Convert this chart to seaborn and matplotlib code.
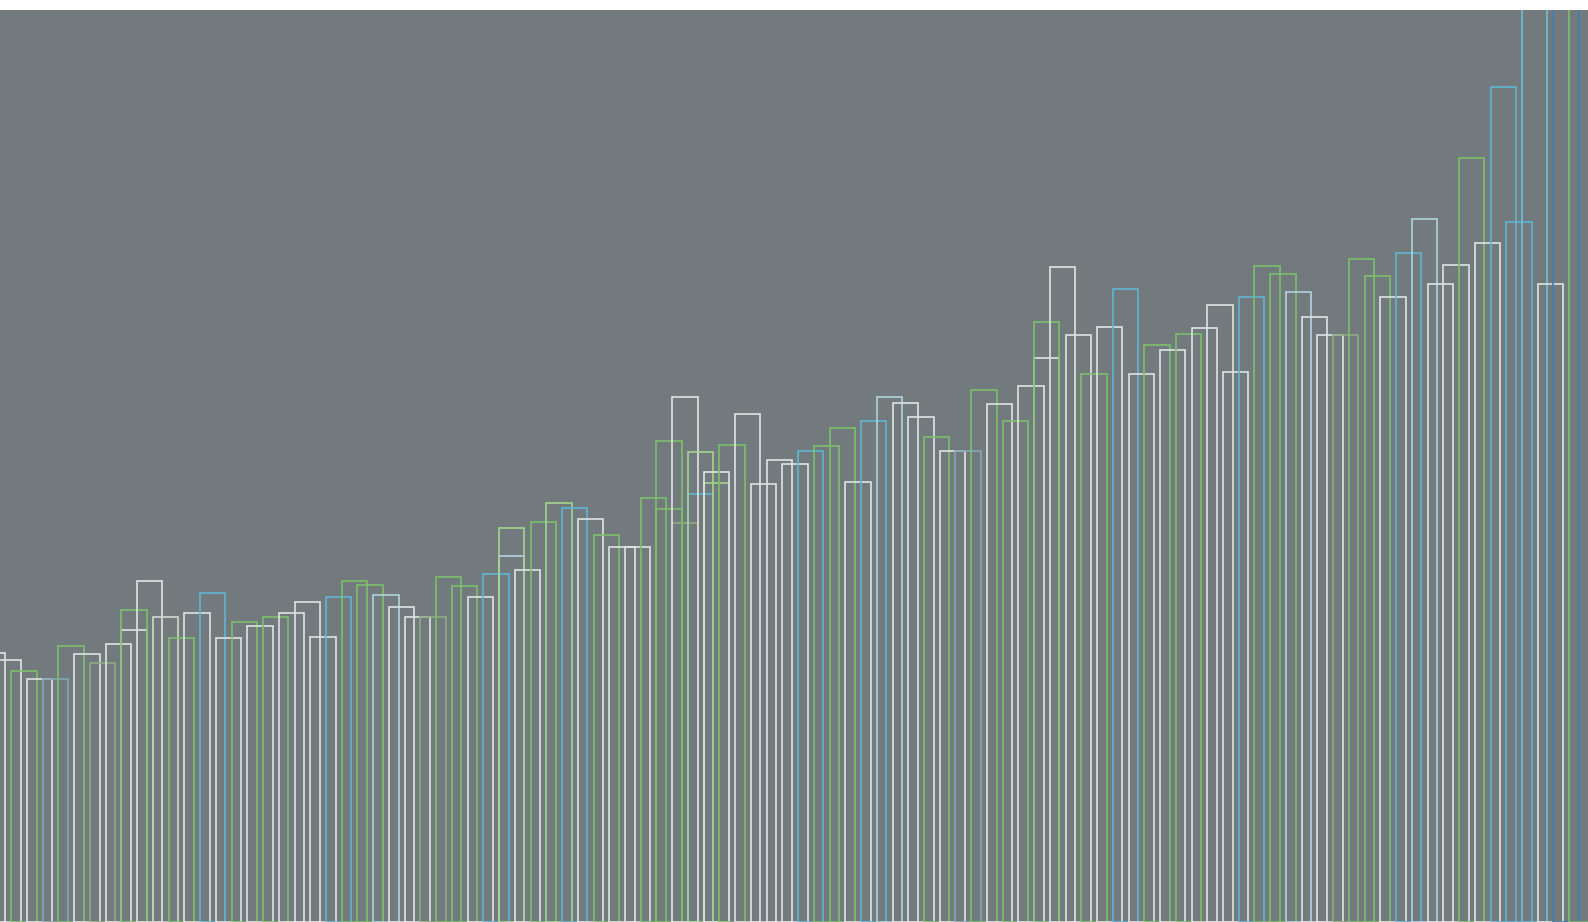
import pandas as pd
import seaborn as sns
import matplotlib.pyplot as plt

# bar heights (front layer, one per slot)
heights = [269, 262, 251, 243, 243, 276, 268, 259, 278, 312,
           341, 305, 284, 309, 329, 284, 300, 296, 305, 309,
           320, 285, 325, 341, 337, 327, 315, 305, 305, 345,
           336, 325, 348, 394, 352, 400, 419, 414, 403, 387,
           375, 375, 424, 481, 525, 470, 450, 477, 508, 438,
           462, 458, 471, 476, 494, 440, 501, 525, 519, 505,
           485, 471, 471, 532, 518, 501, 536, 600, 655, 587,
           548, 595, 633, 548, 577, 572, 588, 594, 617, 550,
           625, 656, 648, 630, 605, 587, 587, 663, 646, 625,
           669, 703, 638, 657, 764, 679, 835, 700, 960, 638,
           960, 960]
tones = ['W', 'W', 'G', 'W', 'FB', 'G', 'W', 'FG', 'W', 'G',
         'W', 'OW', 'G', 'W', 'B', 'W', 'G', 'W', 'G', 'W',
         'W', 'W', 'B', 'G', 'G', 'LB', 'W', 'W', 'FG', 'G',
         'G', 'W', 'B', 'LG', 'W', 'G', 'LG', 'B', 'W', 'G',
         'W', 'W', 'G', 'G', 'W', 'LG', 'W', 'G', 'W', 'W',
         'W', 'W', 'B', 'G', 'G', 'W', 'B', 'LB', 'W', 'W',
         'G', 'W', 'FB', 'G', 'W', 'G', 'W', 'G', 'W', 'W',
         'G', 'W', 'B', 'W', 'G', 'W', 'G', 'W', 'W', 'W',
         'B', 'G', 'G', 'LB', 'W', 'W', 'FG', 'G', 'G', 'W',
         'B', 'LB', 'W', 'W', 'G', 'W', 'B', 'B', 'TB', 'W',
         'DB', 'G']

# second, shorter bars that sit in the same slot behind the front ones
back_slots = [9, 33, 43, 44, 45, 46, 67]
back_heights = [292, 366, 413, 399, 428, 439, 564]
back_tones = ['W', 'LB', 'G', 'FG', 'B', 'LG', 'W']

colors = {'W': '#dfe3e2', 'OW': '#d0d9cc', 'G': '#7cbf6a', 'LG': '#a6d48f',
          'FG': '#8dac82', 'B': '#5fb5d3', 'LB': '#b0d3df', 'FB': '#84a7b4',
          'TB': '#6cc0d6', 'DB': '#3f80b3'}

n = len(heights)
front = pd.DataFrame({'slot': range(n), 'value': heights,
                      'key': [f'f{i}' for i in range(n)]})
back = pd.DataFrame({'slot': back_slots, 'value': back_heights,
                     'key': [f'b{i}' for i in back_slots]})
pal = {f'f{i}': colors[t] for i, t in enumerate(tones)}
pal.update({f'b{i}': colors[t] for i, t in zip(back_slots, back_tones)})

sns.set_style('white', {'axes.facecolor': '#727a7d'})
fig = plt.figure(figsize=(15.88, 9.22), dpi=100)
fig.patch.set_facecolor('white')
ax = fig.add_axes([0, 0, 1, 912 / 922])

for df in (back, front):
    sns.barplot(data=df, x='slot', y='value', hue='key', palette=pal,
                order=list(range(n)), width=1.61, fill=False, linewidth=1.2,
                errorbar=None, legend=False, ax=ax)

ax.set_xlim(0.48, 0.48 + 1588 / 15.737)
ax.set_ylim(0, 912)
ax.set(xticks=[], yticks=[], xlabel='', ylabel='')
sns.despine(ax=ax, left=True, bottom=True)

fig.savefig('out.png', dpi=100, facecolor='white')
